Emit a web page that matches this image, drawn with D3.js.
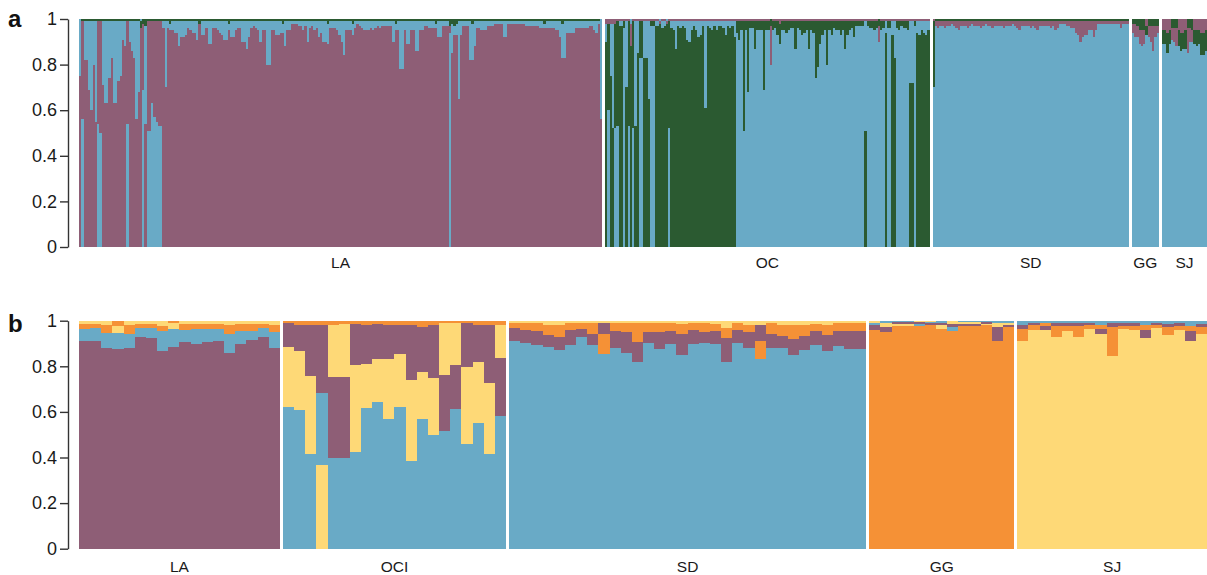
<!DOCTYPE html>
<html><head><meta charset="utf-8">
<script src="https://cdn.jsdelivr.net/npm/d3@7"></script>
<style>
body{margin:0;background:#fff}
svg{display:block}
</style>
</head><body>
<svg id="chart" width="1207" height="575"></svg>
<script>
// ---------------- Panel a (K = 3) ----------------
const aGroupNames = ["LA", "OC", "SD", "GG", "SJ"];

const laPurple = [
75,43,82,82,69,60,80,55,45,49, 71,63,63,74,83,63,63,73,75,91, 88,45,90,86,83,56,68,96,29,54, 48,48,36,42,44,46,46,96,70,
96,95,95,94,94,88,92,92,93,96, 95,94,94,91,98,93,93,96,89,89, 96,96,95,94,93,91,91,95,92,92, 95,96,96,90,90,87,92,96,97,96,
95,90,95,95,80,80,95,95,93,93, 94,94,88,95,95,98,98,98,97,97, 95,97,90,96,97,95,96,92,94,90, 90,89,96,96,96,95,93,90,84,95,
95,95,93,96,98,97,96,95,95,95, 96,95,96,97,
96,97,97,97,97,97,90,95,95,78, 78,95,89,89,95,95,86,86,95,95, 97,97,96,96,96,96,92,92,97,97, 97,3,85,93,93,65,93,97,97,97,
82,82,88,96,96,95,95,95,97,97, 97,98,98,98,98,92,92,98,98,98, 98,98,98,98,98,97,97,97,97,97, 97,96,96,96,96,96,96,96,95,95,
92,83,83,94,94,94,94,96,96,96, 96,96,96,97,97,95,94,98,56];
const laGreen = [
0,1,1,1,1,1,1,1,1,1,1,1,1,1,1,1,1,1,1,1,
1,1,1,1,1,1,1,3,2,3,1,1,1,1,1,1,1,1,1,1,
2,1,1,1,1,1,1,1,1,1,1,1,1,2,1,1,1,1,1,1,
1,1,1,1,1,1,2,1,1,1,1,1,1,1,1,1,1,1,1,1,
1,1,1,1,1,1,1,1,1,1,2,1,1,1,1,1,1,1,1,1,
1,1,1,1,1,1,1,1,1,1,2,1,1,1,1,1,1,1,1,1,
1,2,1,1,1,1,1,1,1,1,1,1,1,1,1,1,1,1,1,1,
2,1,1,1,1,1,1,1,1,1,1,1,1,1,1,1,1,1,2,1,
1,1,1,1,3,2,3,2,1,1,1,1,1,1,2,1,1,1,1,1,
1,1,1,1,1,1,1,1,1,1,1,1,1,1,1,1,1,1,1,1,
1,1,1,1,1,1,2,1,1,1,1,1,1,1,2,1,1,1,1,1,
1,1,1,1,1,1,1,1,1,1,1,0];

const ocGreen = [
90,38,75,52,46,46,97,97,3,70, 46,88,47,53,85,16,16,83,83,65, 2,2,97,97,98,96,97,98,47,96,
95,87,97,96,97,96,91,90,95,97, 95,92,93,97,61,97,96,95,97,95, 97,97,96,93,97,96,97,92,
5,8,4,48,4,31,3,3,12,4, 4,4,30,4,4,3,4,3,6,9, 4,4,5,4,3,3,12,3,4,6, 5,4,12,4,5,25,20,10,6,4,
19,4,6,3,4,4,6,4,12,6, 4,3,7,2,2,2,
2,51,2,3,3,4,3,3,4,3, 94,3,3,93,83,3,4,2,3,3, 4,72,72,2,94,93,95,94,93,95];
const ocPurple = [
2,2,2,2,2,1,1,1,1,1, 1,10,1,1,1,1,1,1,1,1, 1,1,1,1,1,1,1,1,1,1, 1,1,1,1,1,1,1,1,1,1,
1,1,1,1,1,1,1,1,1,1, 1,1,1,1,1,1,1,1,1,1, 1,1,1,1,1,1,1,1,1,1, 1,1,1,17,1,1,1,2,1,1,
1,1,1,1,1,1,1,1,1,1, 1,1,1,1,1,1,1,1,1,1, 1,1,1,1,1,1,1,1,1,1, 1,1,1,1,1,1,1,1,1,1,
1,7,1,1,1,1,1,1,1,1, 1,1,1,1,1,1,1,1,1,1, 1,1,1,1];

const sdBlue = [70,
97,96,97,97,96,97,97,98,97,96, 95,97,97,97,96,97,98,97,97,97, 96,97,98,97,97,96,97,97,97,97,
96,97,97,97,98,97,96,95,97,97, 97,97,96,97,96,95,97,97,97,97, 97,96,97,95,96,
98,98,98,97,97,96,96,94,93,90, 92,93,93,95,95,92,95,98,98,98, 98,98,98,98,98,98,98,96,98,98,98];
const sdGreen = [29,
1,1,1,1,1,1,1,1,1,1, 1,1,1,1,1,1,1,1,1,1, 1,1,1,1,1,1,1,1,1,1,
1,1,1,1,1,1,1,1,1,1, 1,1,1,1,1,1,1,1,1,1, 1,1,1,1,1,
1,1,1,1,1,1,1,1,1,1, 1,1,1,1,1,1,1,1,1,1, 1,1,1,1,1,1,1,1,1,1,1];

const ggBlue  = [94,92,92,89,88,89,93,92,90,86,92,94];
const ggGreen = [2,2,3,5,5,5,4,3,3,3,3,3];

const sjBlue  = [89,89,85,89,91,90,88,88,86,87,87,85,90,90,89,88,89,84,84,86];
const sjGreen = [6,6,9,6,4,4,4,7,8,7,8,4,4,5,6,7,6,10,10,9];

// ---------------- Panel b (K = 4) ----------------
const bGroupNames = ["LA", "OCI", "SD", "GG", "SJ"];
const bCounts = [18, 20, 32, 13, 17];

const bPurple = [
91.1,91.1,88.2,87.4,88.2,93.0,92.2,86.8,88.3,90.5,90.0,90.5,91.1,85.7,89.8,91.5,93.0,87.9,
10.5,11.7,22.4,29.7,35.5,35.5,18.1,17.1,15.4,15.0,12.9,24.4,19.9,23.4,24.6,19.2,19.0,16.1,25.6,25.6,
5.6,5.6,5.8,5.4,5.8,6.3,3.8,5.1,4.7,7.3,9.1,8.9,4.7,7.5,5.6,9.2,6.0,4.8,5.8,10.2,5.6,6.9,7.0,6.3,5.4,6.7,5.8,5.8,7.3,6.6,7.7,7.7,
2.2,2.0,0.7,0.7,0.7,1.0,1.0,1.5,0.9,0.9,0.7,5.8,1.1,
1.8,1.0,1.8,1.3,1.3,1.3,1.0,2.2,1.8,1.2,1.4,3.4,1.0,1.5,1.2,4.1,1.5];
const bBlue = [
5.3,5.8,6.6,7.3,6.0,4.0,4.4,8.6,8.0,5.4,6.3,5.8,5.3,8.3,5.7,4.1,4.0,7.3,
62.1,60.7,41.7,31.7,39.8,39.8,42.3,61.7,64.2,57.0,62.1,38.6,56.9,49.7,51.8,61.3,45.9,55.1,41.7,58.0,
91.2,90.2,89.5,88.5,87.0,89.5,92.7,89.2,85.5,88.0,85.8,81.7,90.2,87.6,89.8,85.1,89.8,90.2,89.8,82.0,90.2,88.0,83.3,88.0,88.0,85.1,87.3,89.5,86.6,88.7,87.6,87.6,
1.0,1.0,0.7,0.7,1.0,0.5,1.0,1.6,0.6,0.6,0.6,1.0,0.8,
1.7,1.0,1.1,1.2,1.2,1.2,0.9,1.7,1.0,1.1,1.0,1.7,0.9,1.4,1.2,2.3,1.3];
const bOrange = [
2.0,1.6,3.1,2.2,3.8,1.6,1.9,2.4,1.2,2.6,2.2,2.2,2.2,4.0,2.9,2.9,1.6,3.0,
1.0,1.8,1.8,1.8,2.0,1.5,1.5,1.8,1.5,1.8,1.8,1.8,2.8,1.8,1.0,1.0,1.2,1.8,1.8,1.8,
2.2,3.2,3.7,4.4,5.4,3.2,2.5,4.7,8.8,3.7,4.1,8.3,4.1,3.7,3.4,4.4,3.2,4.0,2.9,4.4,3.2,3.4,7.9,4.7,4.8,6.5,5.1,3.4,4.4,3.7,3.7,3.7,
95.8,94.3,97.5,97.5,97.5,98.0,96.0,95.3,97.8,97.8,97.8,90.4,97.2,
5.3,2.2,1.3,4.7,2.2,4.7,1.9,1.8,12.9,1.5,1.8,2.5,1.5,3.4,1.8,2.4,2.9];
const bYellow = [
1.6,1.5,2.1,3.1,2.0,1.4,1.5,2.2,2.5,1.5,1.5,1.5,1.4,2.0,1.6,1.5,1.4,1.8,
26.3,25.9,34.2,36.8,22.7,23.2,38.2,19.4,19.0,26.2,23.2,35.2,20.5,25.1,22.6,18.5,33.8,27.0,31.0,14.6,
1.0,1.0,1.0,1.7,1.8,1.0,1.0,1.0,1.0,1.0,1.0,1.1,1.0,1.2,1.2,1.3,1.0,1.0,1.5,3.4,1.0,1.7,1.8,1.0,1.8,1.7,1.8,1.3,1.7,1.0,1.0,1.0,
1.0,1.9,1.0,1.0,0.7,0.5,1.6,1.4,0.7,0.7,0.8,1.8,0.9,
91.2,95.8,95.8,92.8,95.3,92.8,96.2,94.3,84.3,96.2,95.8,92.4,96.5,93.7,95.8,91.2,94.3];

const yTicks = [0, 0.2, 0.4, 0.6, 0.8, 1];

const colors = {
  purple: "#8E5E76",
  blue:   "#69AAC6",
  green:  "#2B5A31",
  orange: "#F59136",
  yellow: "#FED977"
};

// ---------- build individuals ----------
const aInds = [];
laPurple.forEach((p, i) => aInds.push({g: 0, v: {purple: p, blue: 100 - p - laGreen[i], green: laGreen[i]}}));
ocGreen.forEach((gr, i) => aInds.push({g: 1, v: {purple: ocPurple[i], blue: 100 - gr - ocPurple[i], green: gr}}));
sdBlue.forEach((b, i) => aInds.push({g: 2, v: {purple: 100 - b - sdGreen[i], blue: b, green: sdGreen[i]}}));
ggBlue.forEach((b, i) => aInds.push({g: 3, v: {purple: 100 - b - ggGreen[i], blue: b, green: ggGreen[i]}}));
sjBlue.forEach((b, i) => aInds.push({g: 4, v: {purple: 100 - b - sjGreen[i], blue: b, green: sjGreen[i]}}));

const bInds = [];
{
  let idx = 0;
  bCounts.forEach((n, g) => {
    for (let k = 0; k < n; k++, idx++) {
      bInds.push({g, v: {purple: bPurple[idx], blue: bBlue[idx], orange: bOrange[idx], yellow: bYellow[idx]}});
    }
  });
}

const svg = d3.select("#chart");
const FONT = "'Liberation Sans', Arial, Helvetica, sans-serif";
const plotLeft = 79, plotRight = 1207, gapPx = 3;

function drawPanel(inds, groupNames, yBottom, yTop, labelY, letter, letterY) {
  const N = inds.length, G = groupNames.length;
  const xs = d3.scaleLinear().domain([0, N]).range([0, plotRight - plotLeft - gapPx * (G - 1)]);
  const xOf = (i, g) => plotLeft + xs(i) + gapPx * g;
  const y = d3.scaleLinear().domain([0, 1]).range([yBottom, yTop]);

  const segs = [];
  const groupRange = groupNames.map(() => [Infinity, -Infinity]);
  inds.forEach((d, i) => {
    const entries = Object.entries(d.v).map(([k, v]) => ({k, v: Math.max(0, v)}));
    const tot = d3.sum(entries, e => e.v);
    entries.sort((a, b) => b.v - a.v);
    let cum = 0;
    const x0 = xOf(i, d.g), x1 = xOf(i + 1, d.g);
    groupRange[d.g][0] = Math.min(groupRange[d.g][0], x0);
    groupRange[d.g][1] = Math.max(groupRange[d.g][1], x1);
    entries.forEach(e => {
      const f = e.v / tot;
      segs.push({x0, x1, y0: cum, y1: cum + f, k: e.k});
      cum += f;
    });
  });

  const g = svg.append("g");
  g.append("g").selectAll("rect").data(segs).join("rect")
    .attr("x", d => d.x0)
    .attr("width", d => d.x1 - d.x0)
    .attr("y", d => y(d.y1))
    .attr("height", d => y(d.y0) - y(d.y1))
    .attr("fill", d => colors[d.k])
    .attr("shape-rendering", "crispEdges");

  const ax = g.append("g").attr("transform", "translate(68,0)")
    .call(d3.axisLeft(y).tickValues(yTicks)
      .tickFormat(d => (d === 0 || d === 1) ? d3.format("d")(d) : d3.format(".1f")(d))
      .tickSize(8).tickSizeOuter(0).tickPadding(3));
  ax.attr("font-family", FONT).attr("font-size", 18);
  ax.select(".domain").attr("stroke", "#333").attr("stroke-width", 1.4);
  ax.selectAll(".tick line").attr("stroke", "#333").attr("stroke-width", 1.4);
  ax.selectAll(".tick text").attr("fill", "#1a1a1a");

  g.append("g").selectAll("text").data(groupNames).join("text")
    .attr("x", (d, i) => (groupRange[i][0] + groupRange[i][1]) / 2)
    .attr("y", labelY)
    .attr("text-anchor", "middle")
    .attr("font-family", FONT)
    .attr("font-size", 15.5)
    .attr("fill", "#1a1a1a")
    .text(d => d);

  g.append("text")
    .attr("x", 8).attr("y", letterY)
    .attr("font-family", FONT)
    .attr("font-weight", "bold")
    .attr("font-size", 24)
    .attr("fill", "#111")
    .text(letter);
}

drawPanel(aInds, aGroupNames, 247, 19, 268, "a", 27);
drawPanel(bInds, bGroupNames, 548.7, 320.7, 572, "b", 332);
</script>
</body></html>
